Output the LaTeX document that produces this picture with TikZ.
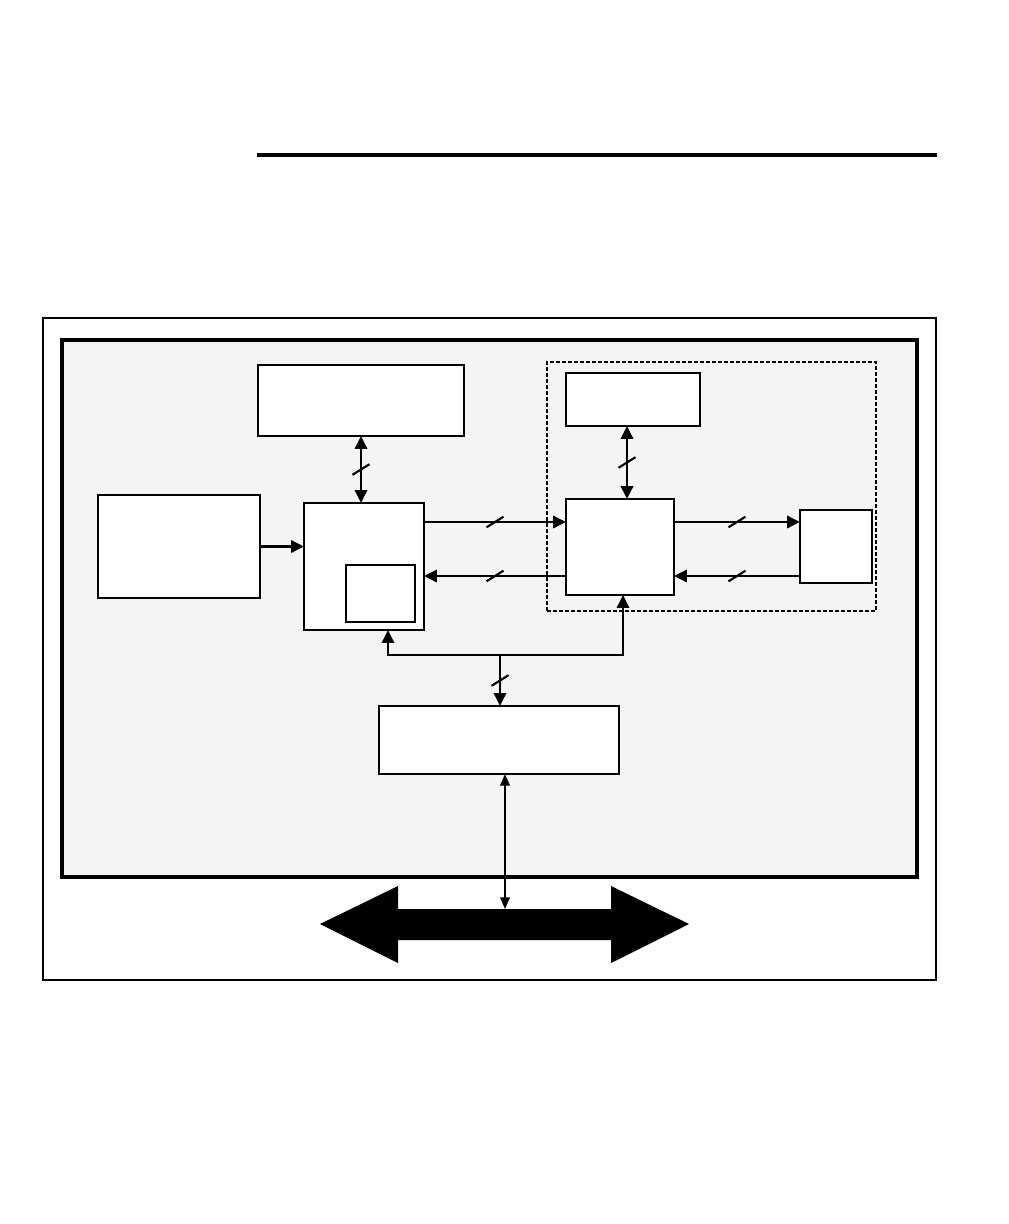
\documentclass[tikz,border=0pt]{standalone}
\usepackage{xcolor}
\usepackage{tikz}
\usetikzlibrary{positioning,calc,arrows.meta}
\definecolor{panelgray}{RGB}{244,244,244}

\begin{document}
\begin{tikzpicture}[x=0.25mm, y=-0.25mm, >={Triangle[length=3.2mm, width=3mm]}, box/.style = {draw, fill=white, line width=2pt, inner sep=0pt, outer sep=0pt}, link/.style = {line width=2pt}, slash/.style = {draw, line width=1.5pt, minimum width=5mm, minimum height=0pt, inner sep=0pt, rotate=32}]

\useasboundingbox (0,0) rectangle (1008,1224);
\draw[line width=3pt] (257,155) -- (937,155); %top rule

\node[draw, line width=0.9pt, inner sep=0pt, minimum width=223.25mm, minimum height=165.5mm] (frame) at (489.5,649) {};
\node[draw, fill=panelgray, line width=3pt, inner sep=0pt, minimum width=213.75mm, minimum height=134.25mm] (panel) at (489.5,608.5) {};
\node[draw, dash pattern=on 1mm off 0.5mm, line width=1.4pt, inner sep=0pt, minimum width=82.25mm, minimum height=62.25mm] (group) at (711.5,486.5) {};

\node[box, minimum width=51.5mm, minimum height=17.75mm] (A) at (361,400.5) {};
\node[box, minimum width=40.5mm, minimum height=25.75mm] (B) at (179,546.5) {};
\node[box, minimum width=30mm, minimum height=31.75mm] (C) at (364,566.5) {};
\node[box, line width=0.8pt, minimum width=17.25mm, minimum height=14.25mm] (D) at (380.5,593.5) {};
\node[box, minimum width=60mm, minimum height=17mm] (E) at (499,740) {};
\node[box, minimum width=33.5mm, minimum height=13.25mm] (F) at (633,399.5) {};
\node[box, minimum width=27mm, minimum height=24mm] (G) at (620,547) {};
\node[box, minimum width=18mm, minimum height=18.25mm] (H) at (836,546.5) {};

\coordinate (up) at ($(G.west)+(0,-25)$);
\coordinate (dn) at ($(G.west)+(0,29)$);
\coordinate (gtop) at ($(G.north)+(7,0)$);
\coordinate (gbot) at ($(G.south)+(3,0)$);
\coordinate (jn) at ($(E.north)+(1,-51)$);
\coordinate (cbot) at ($(C.south)+(24,0)$);

\path[link]
    (A.south) edge[<->] node[slash]{} (A.south |- C.north)
    (B.east) edge[->] (B.east -| C.west)
    (C.east |- up) edge[->] node[slash]{} (up)
    (dn) edge[->] node[slash]{} (C.east |- dn)
    (F.south -| gtop) edge[<->] node[slash]{} (gtop)
    (G.east |- up) edge[->] node[slash]{} (H.west |- up)
    (H.west |- dn) edge[->] node[slash]{} (G.east |- dn)
    (jn) edge[->] node[slash]{} (jn |- E.north);
\draw[link, ->] (jn) -| (cbot);
\draw[link, ->] (jn) -| (gbot);

%bus arrow
\fill[black] (320,924) -- (398,886) -- (398,909) -- (611,909) -- (611,886) -- (689,924) -- (611,963) -- (611,940) -- (398,940) -- (398,963) -- cycle;
\coordinate (bus) at (505,909);
\draw[line width=1.3pt, {Triangle[length=2.9mm, width=2.4mm]}-{Triangle[length=2.9mm, width=2.4mm]}] (bus |- E.south) -- (bus);
\end{tikzpicture}
\end{document}
